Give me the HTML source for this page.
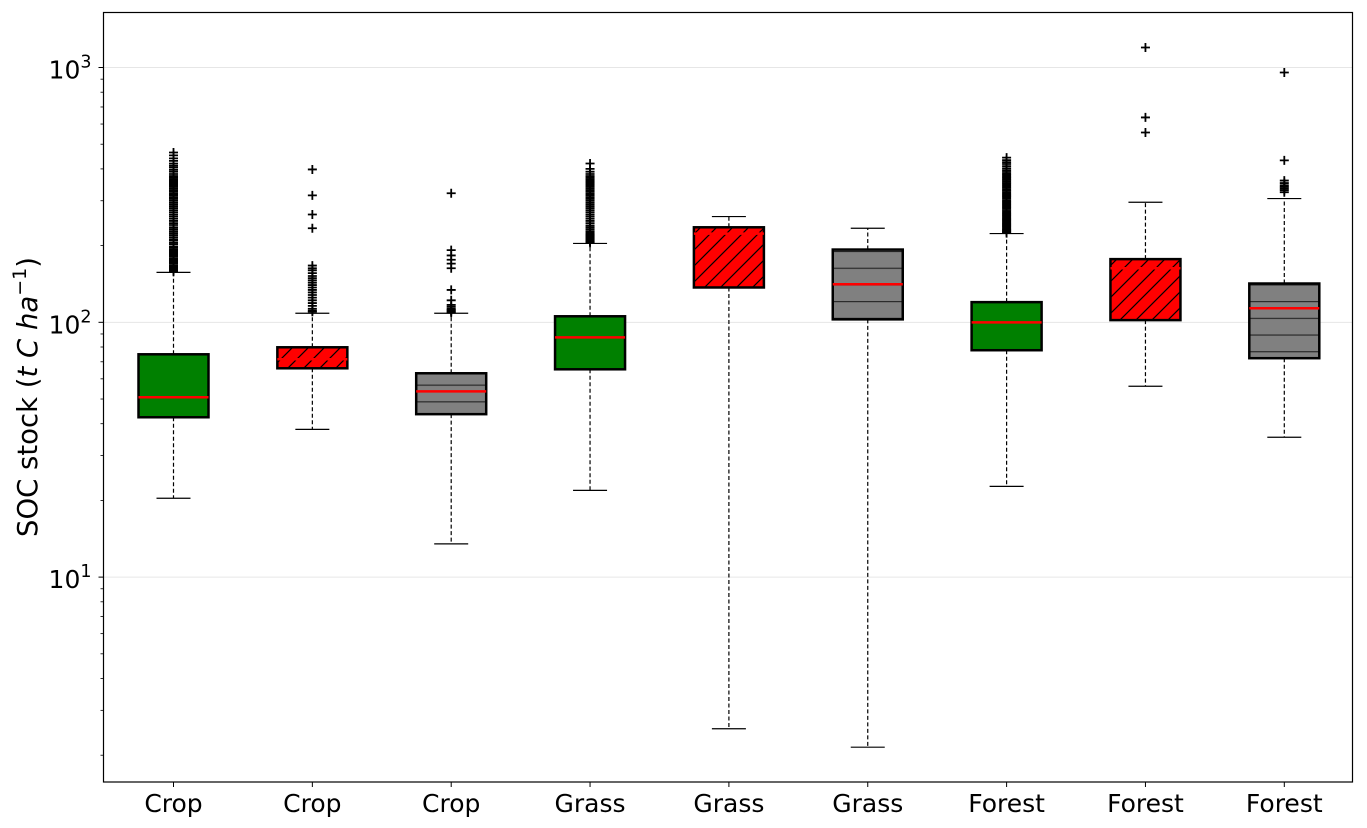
<!DOCTYPE html>
<html><head><meta charset="utf-8"><style>
html,body{margin:0;padding:0;background:#fff;}
svg{display:block;font-family:"DejaVu Sans","Liberation Sans",sans-serif;}
</style></head><body>
<svg id="chart" width="1367" height="828" viewBox="0 0 1367 828" xmlns="http://www.w3.org/2000/svg">
<defs>
<pattern id="hatch-diag" patternUnits="userSpaceOnUse" width="16" height="16">
<rect width="16" height="16" fill="#ff0000"/>
<path d="M-4,4 L4,-4 M0,16 L16,0 M12,20 L20,12" stroke="#000" stroke-width="1.2"/>
</pattern>
<pattern id="hatch-horiz" patternUnits="userSpaceOnUse" width="16" height="16.7" y="0.5">
<rect width="16" height="16.7" fill="#808080"/>
<path d="M0,0.5 L16,0.5" stroke="#222" stroke-width="1.2"/>
</pattern>
</defs>
<g id="grid"></g>
<g id="plot"></g>
<rect x="103.5" y="12.5" width="1249" height="769.5" fill="none" stroke="#000" stroke-width="1.2"/>
<g id="axes"></g>
<text transform="translate(37,397) rotate(-90)" text-anchor="middle" font-size="27.5" fill="#000">SOC stock (<tspan font-style="italic">t C ha</tspan><tspan font-size="19" dy="-11">−1</tspan><tspan dy="11">)</tspan></text>
</svg>
<script>
const categories = ["Crop","Crop","Crop","Grass","Grass","Grass","Forest","Forest","Forest"];
const fills = ["green","diag","horiz","green","diag","horiz","green","diag","horiz"];
const whiskerLow = [20.4, 38.0, 13.5, 21.9, 2.54, 2.15, 22.7, 56.1, 35.4];
const q1 = [42.4, 66.0, 43.6, 65.4, 137, 102.7, 77.7, 102, 72.3];
const medians = [50.8, 71.6, 53.6, 87.3, 223, 141, 100, 163, 113.5];
const q3 = [74.9, 79.8, 63.1, 105.6, 236, 193, 120, 177, 142];
const whiskerHigh = [157, 108.5, 108.5, 204, 260, 234, 223, 296, 306];
const outliers = [
 [158,160,162,163,165,167,170,172,174,176,178,181,183,186,188,191,193,196,198,202,205,209,212,216,220,224,228,232,236,241,245,250,255,260,265,270,275,280,285,290,295,300,305,310,315,320,325,330,335,340,345,350,355,360,365,370,375,382,390,397,405,412,420,430,440,452,464],
 [110,111,113,116,119,122,125,128,131,134,137,140,143,146,149,152,156,160,163,167,234,265,315,398],
 [109,110,111,112,113,115,117,122,134,163,170,176,183,192,321],
 [205,207,208,210,212,214,216,218,220,222,225,228,232,236,240,245,250,255,260,265,270,275,280,285,290,295,300,305,310,315,320,325,330,335,340,345,350,355,360,365,370,375,382,390,400,420],
 [],
 [],
 [224,226,228,230,232,235,238,240,243,246,249,252,255,258,262,265,268,272,276,280,284,288,292,296,300,305,310,314,318,323,328,332,337,342,347,352,357,362,367,372,378,383,389,395,402,410,418,425,433,443],
 [556,637,1198],
 [324,330,335,340,345,352,360,432,956]
];
const yTickValues = [10, 100, 1000];
const yTickExp = ["1","2","3"];

const NS="http://www.w3.org/2000/svg";
const X0=103.5, X1=1352.5, YTOP=12.5, YBOT=782;
const LOGMIN=Math.log10(1.57), LOGMAX=Math.log10(1644);
function yScale(v){return YBOT-(Math.log10(v)-LOGMIN)/(LOGMAX-LOGMIN)*(YBOT-YTOP);}
function xScale(i){return 173.5+i*138.85;}
function mk(tag,attrs,parent){const e=document.createElementNS(NS,tag);for(const k in attrs)e.setAttribute(k,attrs[k]);parent.appendChild(e);return e;}
const grid=document.getElementById('grid'), plot=document.getElementById('plot'), axes=document.getElementById('axes');

yTickValues.forEach((v,i)=>{
  const y=yScale(v);
  const g=mk('line',{x1:X0,x2:X1,y1:y,y2:y,stroke:'#e6e6e6','stroke-width':1},grid);
  
  
  const t=mk('line',{x1:X0-5,x2:X0,y1:y,y2:y,stroke:'#000','stroke-width':1},axes);
  
  
  const lab=mk('text',{x:X0-12,y:y+11,'text-anchor':'end','font-size':25,fill:'#000'},axes);
  
  
  lab.appendChild(document.createTextNode('10'));
  const sup=mk('tspan',{dy:-11,'font-size':17.5},lab);
  sup.textContent=yTickExp[i];
});
for(let d=0;d<=3;d++){for(let m=2;m<=9;m++){const v=m*Math.pow(10,d);const y=yScale(v);if(y<YTOP||y>YBOT)continue;
  const t=mk('line',{x1:X0-3,x2:X0,y1:y,y2:y,stroke:'#000','stroke-width':0.8},axes);
  
  }}

categories.forEach((c,i)=>{
  const cx=xScale(i), hw=35, cw=17;
  const g=mk('g',{},plot);
  
  
  const yl=yScale(whiskerLow[i]), yq1=yScale(q1[i]), ym=yScale(medians[i]), yq3=yScale(q3[i]), yh=yScale(whiskerHigh[i]);
  const w1=mk('line',{x1:cx,x2:cx,y1:yq1,y2:yl,stroke:'#000','stroke-width':1.2,'stroke-dasharray':'4,2.5'},g);
  
  
  const w2=mk('line',{x1:cx,x2:cx,y1:yq3,y2:yh,stroke:'#000','stroke-width':1.2,'stroke-dasharray':'4,2.5'},g);
  
  
  [yl,yh].forEach(y=>{const cp=mk('line',{x1:cx-cw,x2:cx+cw,y1:y,y2:y,stroke:'#000','stroke-width':1.2},g);
    
    });
  const fill=fills[i]==='green'?'#008000':(fills[i]==='diag'?'url(#hatch-diag)':'url(#hatch-horiz)');
  const r=mk('rect',{x:cx-hw,y:yq3,width:2*hw,height:yq1-yq3,fill:fill,stroke:'#000','stroke-width':2.5},g);
  
  
  const md=mk('line',{x1:cx-hw,x2:cx+hw,y1:ym,y2:ym,stroke:'#ff0000','stroke-width':2.5},g);
  
  
  outliers[i].forEach(v=>{const y=yScale(v);
    const p=mk('path',{d:`M${cx-4.5},${y}H${cx+4.5}M${cx},${y-4.5}V${y+4.5}`,stroke:'#000','stroke-width':1.8},g);
    
    });
  const tk=mk('line',{x1:cx,x2:cx,y1:YBOT,y2:YBOT+5,stroke:'#000','stroke-width':1},axes);
  
  
  const lb=mk('text',{x:cx,y:812,'text-anchor':'middle','font-size':25,fill:'#000'},axes);
  
  
  lb.textContent=c;
});
</script>
</body></html>
